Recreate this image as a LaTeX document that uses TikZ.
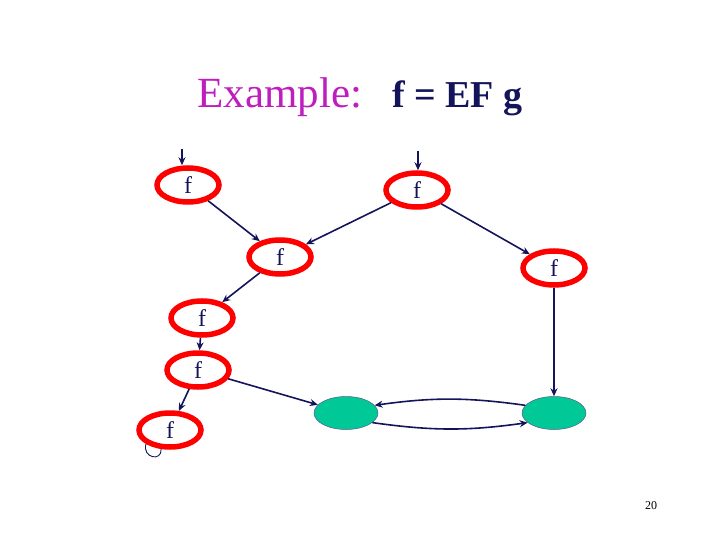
\documentclass[tikz,border=0pt]{standalone}
\usepackage{fontspec}
\setmainfont{Liberation Serif}
\usetikzlibrary{shapes.geometric,arrows.meta}
\definecolor{navy}{RGB}{20,20,90}
\definecolor{mag}{RGB}{190,30,190}
\definecolor{gr}{RGB}{0,200,150}
\begin{document}
\begin{tikzpicture}[x=1pt,y=-1pt,
 fnode/.style={ellipse,draw=red,line width=5.5pt,minimum width=62pt,minimum height=34pt,inner sep=0pt,font=\fontsize{24}{26}\selectfont,text=navy},
 gnode/.style={ellipse,draw=navy!70,fill=gr,line width=0.5pt,minimum width=64pt,minimum height=33pt},
 arr/.style={draw=navy,line width=1.6pt,-{Stealth[length=8pt,width=7pt]}}]
\useasboundingbox (0,0) rectangle (720,540);
\node (title) at (360,97) {\fontsize{43}{46}\selectfont\textcolor{mag}{Example:}\hspace{0.7em}\textcolor{navy}{\bfseries\fontsize{38}{40}\selectfont f = EF g}};
\node[fnode] (a) at (188,185) {f};
\node[fnode] (b) at (417,190) {f};
\node[fnode] (c) at (280,257) {f};
\node[fnode] (d) at (554,268) {f};
\node[fnode] (e) at (202,318) {f};
\node[fnode] (f) at (198,370) {f};
\node[fnode] (g) at (170,430) {f};
\node[gnode] (g1) at (346,413) {};
\node[gnode] (g2) at (554,413) {};
\coordinate (ia) at (182,149);
\coordinate (ib) at (418,151);
\draw[arr] (ia) -- (ia |- a.north);
\draw[arr] (ib) -- (ib |- b.north);
\draw[arr] (a) -- (c);
\draw[arr] (b) -- (c);
\draw[arr] (b) -- (d);
\draw[arr] (c) -- (e);
\draw[arr] (e) -- (f);
\draw[arr] (f) -- (g);
\draw[arr] (f) -- (g1);
\draw[arr] (d) -- (g2);
\draw[arr] (g2.165) to[bend right=8] (g1.15);
\draw[arr] (g1.-20) to[bend right=8] (g2.-160);
\draw[navy,line width=0.9pt] (g.-150) .. controls (142,458) and (162,462) .. (g.-115);
\node (n) at (651,506) {\fontsize{12}{14}\selectfont 20};
\end{tikzpicture}
\end{document}
